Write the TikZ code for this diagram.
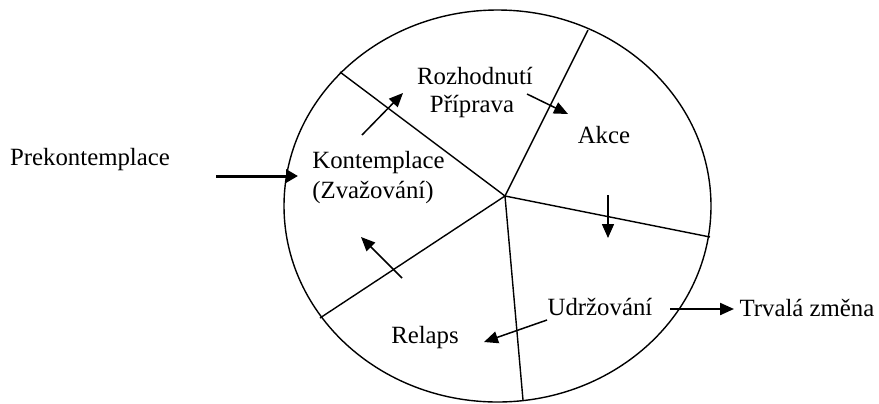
\documentclass[tikz,border=0pt]{standalone}
\usepackage{fontspec}
\setmainfont{Liberation Serif}
\usetikzlibrary{arrows.meta}
\tikzset{
  lbl/.style={inner sep=0pt, font=\fontsize{12.4}{14.5}\selectfont},
  spoke/.style={line width=0.7pt},
  flow/.style={line width=0.75pt, -{Triangle[length=7pt,width=6pt]}},
  thickflow/.style={line width=1.5pt, -{Triangle[length=6pt,width=6.5pt]}}
}
\begin{document}
\begin{tikzpicture}[x=0.5pt,y=-0.5pt]
\useasboundingbox (0,0) rectangle (879,403);
% wheel
\draw[spoke] (497.5,206) ellipse [x radius=106.75pt, y radius=98pt];
\coordinate (c) at (505,196);
\coordinate (s1) at (340,72);
\coordinate (s2) at (588,30);
\coordinate (s3) at (710,237);
\coordinate (s4) at (523,400);
\coordinate (s5) at (320,318);
\foreach \s in {s1,s2,s3,s4,s5} \draw[spoke] (c) -- (\s);
% labels
\node[lbl] (pre) at (90,160) {Prekontemplace};
\node[lbl] (roz) at (475,76) {Rozhodnutí};
\node[lbl] (pri) at (472,107) {Příprava};
\node[lbl] (akce) at (604,135) {Akce};
\node[lbl,anchor=west] (kon) at (312,163) {Kontemplace};
\node[lbl,anchor=west] (zva) at (312,193) {(Zvažování)};
\node[lbl] (udr) at (600,307) {Udržování};
\node[lbl] (rel) at (425,338) {Relaps};
\node[lbl] (trv) at (807,308) {Trvalá změna};
% arrows
\coordinate (a1s) at (216,176); \coordinate (a1e) at (298,176);
\draw[thickflow] (a1s) -- (a1e);
\coordinate (a2s) at (362,135); \coordinate (a2e) at (403,93);
\draw[flow] (a2s) -- (a2e);
\coordinate (a3s) at (527,94); \coordinate (a3e) at (568,114);
\draw[flow] (a3s) -- (a3e);
\coordinate (a4s) at (608,195); \coordinate (a4e) at (608,238);
\draw[flow] (a4s) -- (a4e);
\coordinate (a5s) at (547,320); \coordinate (a5e) at (484,342);
\draw[flow] (a5s) -- (a5e);
\coordinate (a6s) at (402,278); \coordinate (a6e) at (361,237);
\draw[flow] (a6s) -- (a6e);
\coordinate (a7s) at (670,309); \coordinate (a7e) at (734,309);
\draw[flow, line width=1.1pt] (a7s) -- (a7e);
\end{tikzpicture}
\end{document}
